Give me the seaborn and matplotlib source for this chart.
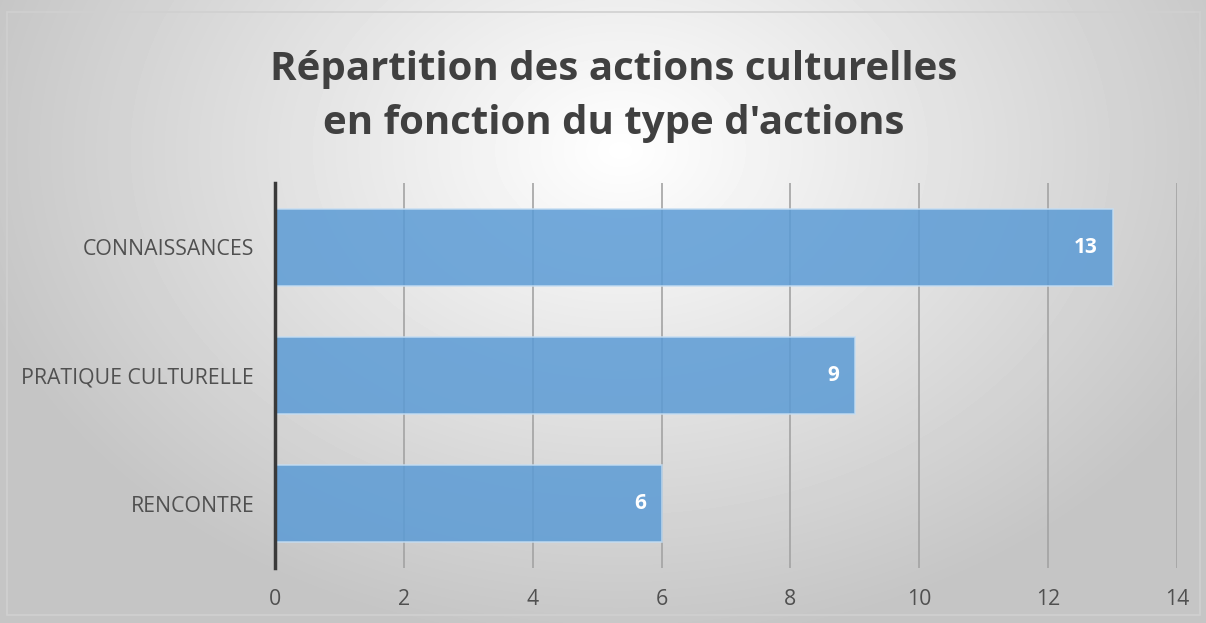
"""
Répartition des actions culturelles - horizontal bar chart.
"""

import matplotlib.pyplot as plt
import matplotlib.patches as mpatches
import seaborn as sns
import numpy as np
import pandas as pd

# Data
categories = ['CONNAISSANCES', 'PRATIQUE CULTURELLE', 'RENCONTRE']
counts = [13, 9, 6]
x_ticks = [0, 2, 4, 6, 8, 10, 12, 14]
title = "Répartition des actions culturelles\nen fonction du type d'actions"

sns.set_style("white")
plt.rcParams['font.family'] = ['Open Sans', 'DejaVu Sans']

df = pd.DataFrame({'type': categories, 'n': counts})

fig = plt.figure(figsize=(12.06, 6.23), dpi=100)

# Radial gradient background
bg = fig.add_axes([0, 0, 1, 1], zorder=-10)
yy, xx = np.mgrid[0:623, 0:1206]
r = np.sqrt(((xx - 620) / 700.0) ** 2 + ((yy - 150) / 520.0) ** 2)
shade = np.clip(1.0 - 0.24 * r, 0.77, 1.0)
bg.imshow(shade, cmap='gray', vmin=0, vmax=1, aspect='auto',
          extent=[0, 1206, 623, 0], interpolation='bilinear')
bg.add_patch(mpatches.Rectangle((7, 12), 1193, 603, fill=False,
                                edgecolor='#d0d0d0', linewidth=1.2))
bg.set_xlim(0, 1206)
bg.set_ylim(623, 0)
bg.axis('off')

ax = fig.add_axes([0.228, 0.0883, 0.748, 0.618])
ax.patch.set_alpha(0)

sns.barplot(data=df, x='n', y='type', orient='h', ax=ax, width=0.6,
            color='#5b9bd5', saturation=1, alpha=0.85, edgecolor='#c5ddf2',
            linewidth=1.2, zorder=3)

ax.set_xlim(0, 14)
ax.set_xticks(x_ticks)
ax.set_xticklabels([str(t) for t in x_ticks])
ax.grid(axis='x', color='#a3a3a3', linewidth=1.2, zorder=0)
ax.set_axisbelow(True)
ax.tick_params(axis='both', length=0, labelsize=15.3, colors='#505050')
ax.tick_params(axis='y', pad=15)
ax.tick_params(axis='x', pad=15)
ax.set_xlabel('')
ax.set_ylabel('')
for s in ['top', 'right', 'bottom']:
    ax.spines[s].set_visible(False)
ax.spines['left'].set_color('#3a3a3a')
ax.spines['left'].set_linewidth(2.5)
ax.spines['left'].set_zorder(5)

# Value labels
for i, v in enumerate(counts):
    ax.text(v - 0.24, i, str(v), ha='right', va='center', color='white',
            fontsize=15, fontweight='bold', zorder=6)

fig.text(0.509, 0.845, title, ha='center', va='center', fontsize=29,
         fontweight='bold', color='#404040', linespacing=1.5)

plt.savefig('out.png', dpi=100)
plt.close()
